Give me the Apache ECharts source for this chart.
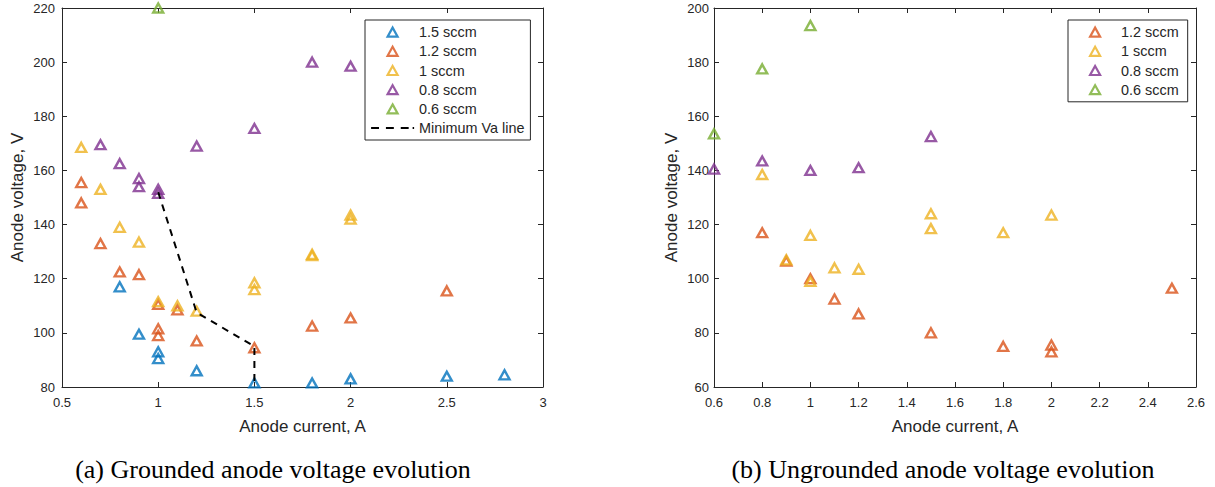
<!DOCTYPE html>
<html>
<head>
<meta charset="utf-8">
<script src="https://cdn.jsdelivr.net/npm/echarts@6/dist/echarts.min.js"></script>
<style>
html,body{margin:0;padding:0;background:#ffffff;}
#chart{width:1215px;height:487px;}
</style>
</head>
<body>
<div id="chart"></div>
<script>
// ---------- DATA ----------
// (a) Grounded anode: [anode current A, anode voltage V]
const groundedNames = ['1.5 sccm', '1.2 sccm', '1 sccm', '0.8 sccm', '0.6 sccm'];
const grounded15 = [[0.8,117],[0.9,99.5],[1,93],[1,90.5],[1.2,86],[1.5,81.5],[1.8,81.5],[2,83],[2.5,84],[2.8,84.5]];
const grounded12 = [[0.6,155.5],[0.6,148],[0.7,133],[0.8,122.5],[0.9,121.5],[1,110.5],[1,101.5],[1,99],[1.1,108.5],[1.2,97],[1.5,94.5],[1.8,102.5],[2,105.5],[2.5,115.5]];
const grounded10 = [[0.6,168.5],[0.7,153],[0.8,139],[0.9,133.5],[1,111.5],[1.1,110],[1.2,108],[1.5,118.5],[1.5,116],[1.8,129],[1.8,128.5],[2,143.5],[2,142]];
const grounded08 = [[0.7,169.5],[0.8,162.5],[0.9,157],[0.9,154],[1,153],[1,151.5],[1.2,169],[1.5,175.5],[1.8,200],[2,198.5]];
const grounded06 = [[1,220]];
const minVaName = 'Minimum Va line';
const minVaLine = [[1,152],[1.2,107.5],[1.5,95],[1.5,80]];

// (b) Ungrounded anode
const ungroundedNames = ['1.2 sccm', '1 sccm', '0.8 sccm', '0.6 sccm'];
const ungrounded12 = [[0.8,117],[0.9,106.5],[1,100],[1.1,92.5],[1.2,87],[1.5,80],[1.8,75],[2,75.5],[2,73],[2.5,96.5]];
const ungrounded10 = [[0.8,138.5],[0.9,107],[1,116],[1,99],[1.1,104],[1.2,103.5],[1.5,124],[1.5,118.5],[1.8,117],[2,123.5]];
const ungrounded08 = [[0.6,140.5],[0.8,143.5],[1,140],[1.2,141],[1.5,152.5]];
const ungrounded06 = [[0.6,153.5],[0.8,177.5],[1,193.5]];

// axis ranges [min, max, interval]
const xRangeA = [0.5, 3, 0.5];
const yRangeA = [80, 220, 20];
const xRangeB = [0.6, 2.6, 0.2];
const yRangeB = [60, 200, 20];

const xTitle = 'Anode current, A';
const yTitle = 'Anode voltage, V';
const captionA = '(a) Grounded anode voltage evolution';
const captionB = '(b) Ungrounded anode voltage evolution';

// ---------- STYLE ----------
const C = { blue:'#0072BD', red:'#D95319', yellow:'#EDB120', purple:'#7E2F8E', green:'#77AC30' };
const axisColor = '#262626';
const sans = '"Liberation Sans", Arial, Helvetica, sans-serif';
const serif = '"Liberation Serif", "Times New Roman", serif';

// legend icons: invisible moves fix the bounding box so shapes are not stretched
const triIconA = 'path://M0,0M43,12M21.5,1.5L26.5,10.5L16.5,10.5Z';
const triIconB = 'path://M0,0M42,12M21,1.5L26,10.5L16,10.5Z';
const dashIcon = 'path://M0,0M43,12M0,5h8v2h-8zM15,5h8v2h-8zM30,5h8v2h-8zM42,5h1.5v2h-1.5z';

function scatter(name, data, color, idx) {
  return {
    name: name, type: 'scatter', xAxisIndex: idx, yAxisIndex: idx,
    data: data, symbol: 'triangle', symbolSize: [10, 9], clip: false,
    itemStyle: { color: 'rgba(255,255,255,0)', borderColor: color, borderWidth: 2.4 },
    emphasis: { disabled: true }
  };
}

function valAxis(grid, range, opts) {
  return Object.assign({
    type: 'value', gridIndex: grid, min: range[0], max: range[1], interval: range[2],
    axisLine: { show: true, onZero: false, lineStyle: { color: axisColor, width: 1 } },
    axisTick: { show: true, inside: true, length: 5, lineStyle: { color: axisColor, width: 1 } },
    splitLine: { show: false },
    axisLabel: { show: false }
  }, opts);
}

const labelStyle = (margin) => ({ show: true, margin: margin, fontSize: 13, color: axisColor, fontFamily: sans });
const nameStyle = { fontSize: 17, color: axisColor, fontFamily: sans };

const option = {
  animation: false,
  backgroundColor: '#ffffff',
  grid: [
    { left: 62, top: 8, width: 481, height: 379, containLabel: false },
    { left: 714, top: 8, width: 482, height: 379, containLabel: false }
  ],
  xAxis: [
    valAxis(0, xRangeA, { position: 'bottom', axisLabel: labelStyle(9), name: xTitle, nameLocation: 'middle', nameGap: 31, nameTextStyle: nameStyle }),
    valAxis(0, xRangeA, { position: 'top' }),
    valAxis(1, xRangeB, { position: 'bottom', axisLabel: labelStyle(9), name: xTitle, nameLocation: 'middle', nameGap: 31, nameTextStyle: nameStyle }),
    valAxis(1, xRangeB, { position: 'top' })
  ],
  yAxis: [
    valAxis(0, yRangeA, { position: 'left', axisLabel: labelStyle(7), name: yTitle, nameLocation: 'middle', nameGap: 36, nameTextStyle: nameStyle }),
    valAxis(0, yRangeA, { position: 'right' }),
    valAxis(1, yRangeB, { position: 'left', axisLabel: labelStyle(5), name: yTitle, nameLocation: 'middle', nameGap: 34, nameTextStyle: nameStyle }),
    valAxis(1, yRangeB, { position: 'right' })
  ],
  legend: [
    {
      data: groundedNames.map(n => ({ name: n, icon: triIconA, itemStyle: { borderWidth: 2.2 } }))
            .concat([{ name: minVaName, icon: dashIcon, itemStyle: { color: '#000000', borderWidth: 0 } }]),
      orient: 'vertical', left: 365, top: 20,
      padding: [5, 6, 5, 5], itemGap: 5, itemWidth: 43, itemHeight: 12,
      borderColor: axisColor, borderWidth: 1, backgroundColor: '#ffffff',
      textStyle: { fontSize: 14.4, color: axisColor, fontFamily: sans, lineHeight: 14 },
      selectedMode: false
    },
    {
      data: ungroundedNames.map(n => ({ name: n + ' ', icon: triIconB, itemStyle: { borderWidth: 2.2 } })),
      orient: 'vertical', left: 1068, top: 20,
      padding: [5, 5, 5, 5], itemGap: 5, itemWidth: 42, itemHeight: 12,
      borderColor: axisColor, borderWidth: 1, backgroundColor: '#ffffff',
      textStyle: { fontSize: 14.4, color: axisColor, fontFamily: sans, lineHeight: 14 },
      selectedMode: false
    }
  ],
  series: [
    scatter(groundedNames[0], grounded15, C.blue, 0),
    scatter(groundedNames[1], grounded12, C.red, 0),
    scatter(groundedNames[2], grounded10, C.yellow, 0),
    scatter(groundedNames[3], grounded08, C.purple, 0),
    scatter(groundedNames[4], grounded06, C.green, 0),
    {
      name: minVaName, type: 'line', xAxisIndex: 0, yAxisIndex: 0,
      data: minVaLine, symbol: 'none', showSymbol: false,
      lineStyle: { color: '#000000', width: 2, type: [7, 6] },
      itemStyle: { color: '#000000' },
      emphasis: { disabled: true }
    },
    scatter(ungroundedNames[0] + ' ', ungrounded12, C.red, 2),
    scatter(ungroundedNames[1] + ' ', ungrounded10, C.yellow, 2),
    scatter(ungroundedNames[2] + ' ', ungrounded08, C.purple, 2),
    scatter(ungroundedNames[3] + ' ', ungrounded06, C.green, 2)
  ],
  graphic: [
    { type: 'text', x: 273, y: 469, style: { text: captionA, fontSize: 26, fontFamily: serif, fill: '#000000', align: 'center', verticalAlign: 'middle' } },
    { type: 'text', x: 943, y: 469, style: { text: captionB, fontSize: 26, fontFamily: serif, fill: '#000000', align: 'center', verticalAlign: 'middle' } }
  ]
};

const chart = echarts.init(document.getElementById('chart'), null, { renderer: 'svg' });
chart.setOption(option);
</script>
</body>
</html>
